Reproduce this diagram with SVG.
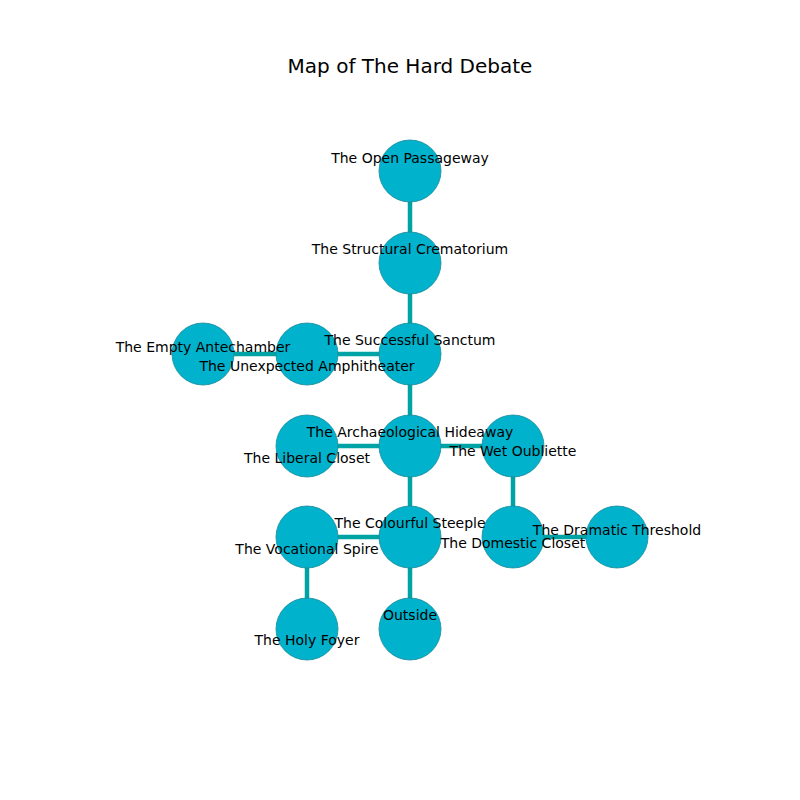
<svg xmlns="http://www.w3.org/2000/svg" width="800" height="800" viewBox="0 0 800 800">
<style>
.n{fill:#00b2cc;stroke:#1a8a99;stroke-width:0.8}
.e{stroke:#00a3a3;stroke-width:4.5;fill:none}
.l{font-family:"DejaVu Sans",sans-serif;font-size:14px;text-anchor:middle;fill:#000}
.t{font-family:"DejaVu Sans",sans-serif;font-size:20px;text-anchor:middle;fill:#000}
</style>
<rect width="800" height="800" fill="#fff"/>
<text class="t" x="410" y="73">Map of The Hard Debate</text>
<g id="connectors">
<line class="e" x1="410" y1="171" x2="410" y2="263"/>
<line class="e" x1="410" y1="263" x2="410" y2="354"/>
<line class="e" x1="410" y1="354" x2="307" y2="354"/>
<line class="e" x1="307" y1="354" x2="203" y2="354"/>
<line class="e" x1="410" y1="354" x2="410" y2="446"/>
<line class="e" x1="410" y1="446" x2="307" y2="446"/>
<line class="e" x1="410" y1="446" x2="513" y2="446"/>
<line class="e" x1="513" y1="446" x2="513" y2="537"/>
<line class="e" x1="513" y1="537" x2="617" y2="537"/>
<line class="e" x1="410" y1="446" x2="410" y2="537"/>
<line class="e" x1="410" y1="537" x2="307" y2="537"/>
<line class="e" x1="307" y1="537" x2="307" y2="629"/>
<line class="e" x1="410" y1="537" x2="410" y2="629"/>
</g>
<g id="open-passageway"><circle class="n" cx="410" cy="171" r="31"/></g>
<g id="structural-crematorium"><circle class="n" cx="410" cy="263" r="31"/></g>
<g id="successful-sanctum"><circle class="n" cx="410" cy="354" r="31"/></g>
<g id="unexpected-amphitheater"><circle class="n" cx="307" cy="354" r="31"/></g>
<g id="empty-antechamber"><circle class="n" cx="203" cy="354" r="31"/></g>
<g id="archaeological-hideaway"><circle class="n" cx="410" cy="446" r="31"/></g>
<g id="liberal-closet"><circle class="n" cx="307" cy="446" r="31"/></g>
<g id="wet-oubliette"><circle class="n" cx="513" cy="446" r="31"/></g>
<g id="colourful-steeple"><circle class="n" cx="410" cy="537" r="31"/></g>
<g id="vocational-spire"><circle class="n" cx="307" cy="537" r="31"/></g>
<g id="domestic-closet"><circle class="n" cx="513" cy="537" r="31"/></g>
<g id="dramatic-threshold"><circle class="n" cx="617" cy="537" r="31"/></g>
<g id="holy-foyer"><circle class="n" cx="307" cy="629" r="31"/></g>
<g id="outside"><circle class="n" cx="410" cy="629" r="31"/></g>
<g id="labels">
<text class="l" x="410" y="163">The Open Passageway</text>
<text class="l" x="410" y="254">The Structural Crematorium</text>
<text class="l" x="410" y="345">The Successful Sanctum</text>
<text class="l" x="203" y="352">The Empty Antechamber</text>
<text class="l" x="307" y="371">The Unexpected Amphitheater</text>
<text class="l" x="410" y="437">The Archaeological Hideaway</text>
<text class="l" x="307" y="463">The Liberal Closet</text>
<text class="l" x="513" y="456">The Wet Oubliette</text>
<text class="l" x="410" y="528">The Colourful Steeple</text>
<text class="l" x="307" y="554">The Vocational Spire</text>
<text class="l" x="513" y="548">The Domestic Closet</text>
<text class="l" x="617" y="535">The Dramatic Threshold</text>
<text class="l" x="307" y="645">The Holy Foyer</text>
<text class="l" x="410" y="620">Outside</text>
</g>
</svg>
